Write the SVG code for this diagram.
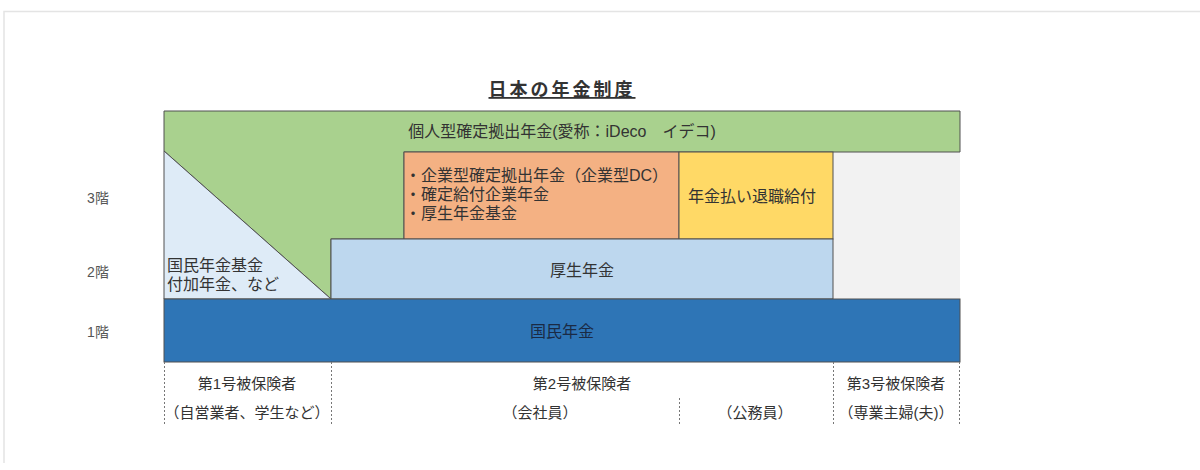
<svg xmlns="http://www.w3.org/2000/svg" width="1200" height="470" viewBox="0 0 1200 470">
<style>
text{font-family:"Liberation Sans","Noto Sans CJK JP",sans-serif;fill:#333;}
.t16{font-size:16px;}
.t15{font-size:15px;}
.axis{font-size:14px;fill:#555;}
.box{stroke:#505050;stroke-width:1;}
.dash{stroke:#777;stroke-width:1;stroke-dasharray:2 2;fill:none;}
.mid{text-anchor:middle;}
</style>
<rect width="1200" height="470" fill="#ffffff"/>
<path d="M4,463 V11.5 H1200" fill="none" stroke="#e4e4e4" stroke-width="1.5"/>
<g id="title">
<text x="562" y="96" class="mid" style="font-size:18px;font-weight:bold;letter-spacing:3px;text-decoration:underline">日本の年金制度</text>
</g>
<g id="axis">
<text x="98" y="203" class="axis mid">3階</text>
<text x="98" y="277" class="axis mid">2階</text>
<text x="98" y="337" class="axis mid">1階</text>
</g>
<g id="n_gray">
<rect x="833" y="152" width="127" height="147" fill="#f2f2f2"/>
</g>
<g id="n_ideco">
<polygon points="164,111 960,111 960,152 404,152 404,239 331,239 331,299 164,151" fill="#a9d18e" class="box"/>
<text x="562" y="137" class="t16 mid">個人型確定拠出年金(愛称：iDeco　イデコ)</text>
</g>
<g id="n_kikin">
<polygon points="164,151 331,299 164,299" fill="#deebf7" class="box"/>
<text x="167" y="271" class="t16">国民年金基金</text>
<text x="167" y="290" class="t16">付加年金、など</text>
</g>
<g id="n_kigyo">
<rect x="404" y="152" width="275" height="87" fill="#f4b183" class="box"/>
<text x="405" y="181" class="t16">・企業型確定拠出年金（企業型DC）</text>
<text x="405" y="200" class="t16">・確定給付企業年金</text>
<text x="405" y="219" class="t16">・厚生年金基金</text>
</g>
<g id="n_nenkin_barai">
<rect x="679" y="152" width="154" height="87" fill="#ffd966" class="box"/>
<text x="752" y="202" class="t16 mid">年金払い退職給付</text>
</g>
<g id="n_kosei">
<rect x="331" y="239" width="502" height="60" fill="#bdd7ee" class="box"/>
<text x="582" y="276" class="t16 mid">厚生年金</text>
</g>
<g id="n_kokumin">
<rect x="164" y="299" width="796" height="63" fill="#2e75b6" class="box"/>
<text x="562" y="337" class="t16 mid" style="fill:#1a2a44">国民年金</text>
</g>
<g id="connectors">
<line x1="164.5" y1="362" x2="164.5" y2="425" class="dash"/>
<line x1="331.5" y1="362" x2="331.5" y2="425" class="dash"/>
<line x1="679.5" y1="398" x2="679.5" y2="425" class="dash"/>
<line x1="833.5" y1="362" x2="833.5" y2="425" class="dash"/>
<line x1="959.5" y1="362" x2="959.5" y2="425" class="dash"/>
</g>
<g id="n_type1">
<text x="247" y="389" class="t15 mid">第1号被保険者</text>
<text x="247" y="418" class="t15 mid">（自営業者、学生など）</text>
</g>
<g id="n_type2">
<text x="582" y="389" class="t15 mid">第2号被保険者</text>
<text x="540" y="418" class="t15 mid">（会社員）</text>
<text x="755" y="418" class="t15 mid">（公務員）</text>
</g>
<g id="n_type3">
<text x="896" y="389" class="t15 mid">第3号被保険者</text>
<text x="896" y="418" class="t15 mid">（専業主婦(夫)）</text>
</g>
</svg>
